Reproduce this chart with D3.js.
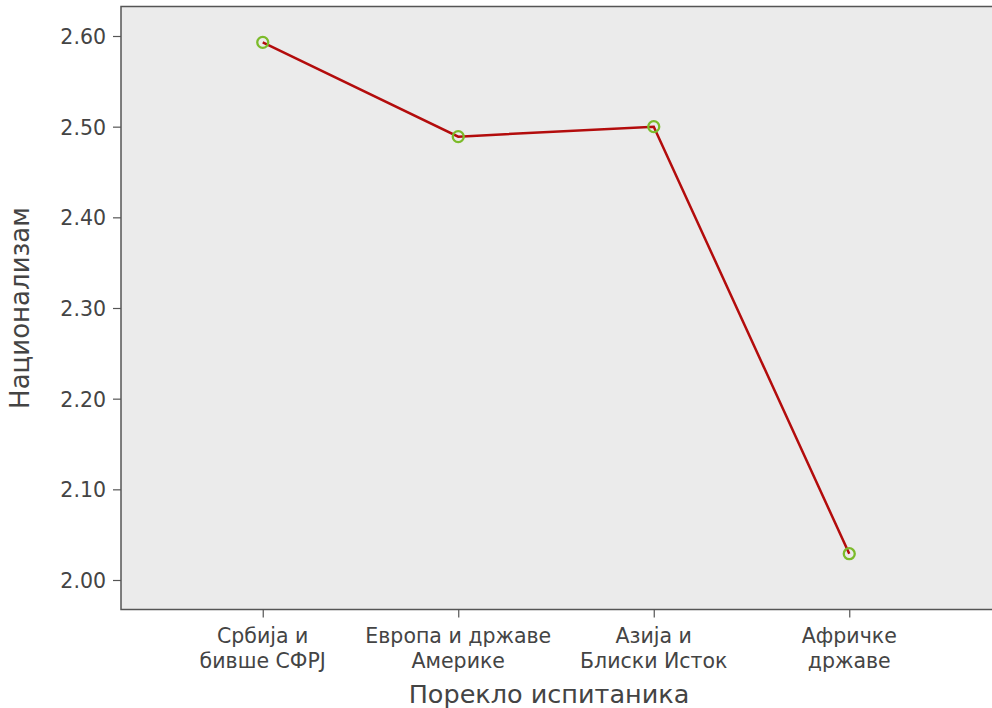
<!DOCTYPE html>
<html>
<head>
<meta charset="utf-8">
<script src="https://cdn.jsdelivr.net/npm/d3@7"></script>
<style>
  body { margin: 0; background: #fff; }
  text { font-family: "DejaVu Sans", "Noto Sans", sans-serif; fill: #444; }
</style>
</head>
<body>
<div id="chart"></div>
<script>
// data
var categories = ["Србија и|бивше СФРЈ", "Европа и државе|Америке", "Азија и|Блиски Исток", "Афричке|државе"];
var means = [2.593, 2.489, 2.500, 2.029];
var yTicks = [2.00, 2.10, 2.20, 2.30, 2.40, 2.50, 2.60];

var svgWidth = 992;
var svgHeight = 708;

var plot = { left: 121, top: 6.5, right: 1000, bottom: 609.5 };

var svg = d3.select("#chart")
    .append("svg")
    .attr("width", svgWidth)
    .attr("height", svgHeight);

// scales
var xScale = d3.scalePoint()
    .domain(categories)
    .range([121, 991])
    .padding(0.725);

var yScale = d3.scaleLinear()
    .domain([2.0, 2.6])
    .range([580, 36]);

// plot background
svg.append("rect")
    .attr("x", plot.left)
    .attr("y", plot.top)
    .attr("width", plot.right - plot.left)
    .attr("height", plot.bottom - plot.top)
    .attr("fill", "#ebebeb")
    .attr("stroke", "#555")
    .attr("stroke-width", 1.5);

// y axis
var leftAxis = d3.axisLeft(yScale)
    .tickValues(yTicks)
    .tickFormat(d3.format(".2f"))
    .tickSize(8)
    .tickSizeOuter(0);

var yAxisG = svg.append("g")
    .attr("transform", `translate(${plot.left}, 0)`)
    .call(leftAxis);
yAxisG.select(".domain").remove();
yAxisG.selectAll("line").attr("stroke", "#555").attr("stroke-width", 1.2);
yAxisG.selectAll("text")
    .attr("font-family", "DejaVu Sans")
    .attr("font-size", "20.5px")
    .attr("fill", "#444")
    .attr("x", -15)
    .attr("dy", "0.36em");

// x axis
var bottomAxis = d3.axisBottom(xScale)
    .tickSize(8)
    .tickSizeOuter(0)
    .tickFormat("");

var xAxisG = svg.append("g")
    .attr("transform", `translate(0, ${plot.bottom})`)
    .call(bottomAxis);
xAxisG.select(".domain").remove();
xAxisG.selectAll("line").attr("stroke", "#555").attr("stroke-width", 1.2);

// two-line category labels
categories.forEach(function(c) {
    var lines = c.split("|");
    lines.forEach(function(l, i) {
        svg.append("text")
            .attr("text-anchor", "middle")
            .attr("font-size", "20.5px")
            .attr("x", xScale(c))
            .attr("y", 643 + i * 25)
            .text(l);
    });
});

// axis titles
svg.append("text")
    .attr("text-anchor", "middle")
    .attr("font-size", "25.5px")
    .attr("x", 549)
    .attr("y", 703)
    .text("Порекло испитаника");

svg.append("text")
    .attr("transform", "rotate(-90)")
    .attr("text-anchor", "middle")
    .attr("font-size", "26px")
    .attr("x", -308)
    .attr("y", 29)
    .text("Национализам");

// line
var line = d3.line()
    .x(function(d, i) { return xScale(categories[i]); })
    .y(function(d) { return yScale(d); });

svg.append("path")
    .datum(means)
    .attr("d", line)
    .attr("fill", "none")
    .attr("stroke", "#b30c0c")
    .attr("stroke-width", 2.5);

// markers
svg.selectAll("circle.pt")
    .data(means)
    .enter()
    .append("circle")
    .attr("class", "pt")
    .attr("cx", function(d, i) { return xScale(categories[i]); })
    .attr("cy", function(d) { return yScale(d); })
    .attr("r", 5.5)
    .attr("fill", "none")
    .attr("stroke", "#7cbb2a")
    .attr("stroke-width", 2.3);
</script>
</body>
</html>
